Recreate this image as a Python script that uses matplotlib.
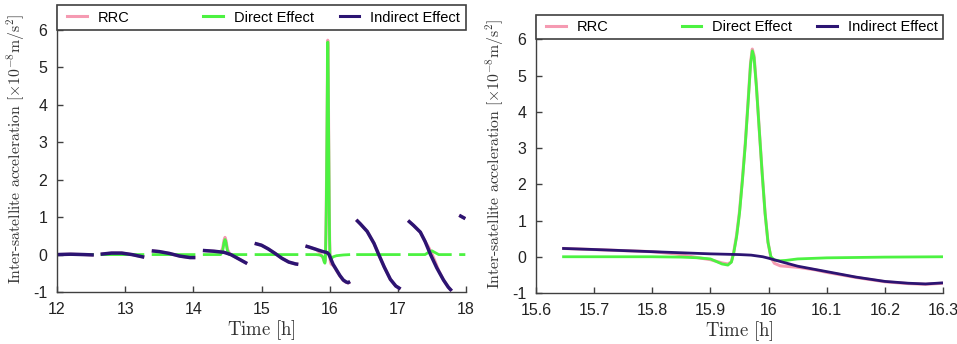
import numpy as np
import matplotlib.pyplot as plt
from matplotlib.patches import Rectangle
from matplotlib.legend import Legend

nan = np.nan

# single pass around 16 h (right panel, and the sixth arc of the left panel)
ind_t_pass = [15.645, 15.7, 15.75, 15.8, 15.85, 15.9, 15.95, 15.97, 15.99, 16.0,
              16.02, 16.05, 16.08, 16.1, 16.15, 16.2, 16.24, 16.27, 16.3]
ind_v_pass = [0.23, 0.20, 0.17, 0.14, 0.11, 0.08, 0.06, 0.045, 0.0, -0.04,
              -0.13, -0.26, -0.35, -0.41, -0.56, -0.68, -0.73, -0.75, -0.72]

dir_t_pass = [15.645, 15.8, 15.85, 15.88, 15.9, 15.91, 15.92, 15.93, 15.936, 15.94,
              15.945, 15.95, 15.955, 15.96, 15.965, 15.969, 15.972, 15.975, 15.979,
              15.984, 15.989, 15.994, 15.999, 16.004, 16.01, 16.02, 16.03, 16.05,
              16.1, 16.2, 16.3]
dir_v_pass = [0.0, 0.0, -0.01, -0.03, -0.06, -0.13, -0.2, -0.23, -0.15, 0.1,
              0.55, 1.2, 2.1, 3.1, 4.3, 5.3, 5.68, 5.5, 4.7,
              3.5, 2.3, 1.2, 0.4, 0.0, -0.09, -0.11, -0.1, -0.06,
              -0.03, -0.01, 0.0]

rrc_t_pass = [15.645, 15.8, 15.84, 15.88, 15.9, 15.92, 15.93, 15.936, 15.94, 15.945,
              15.95, 15.955, 15.96, 15.965, 15.969, 15.972, 15.975, 15.979, 15.984,
              15.989, 15.994, 15.999, 16.004, 16.01, 16.02, 16.05, 16.08, 16.1,
              16.15, 16.2, 16.24, 16.27, 16.3]
rrc_v_pass = [0.23, 0.14, 0.08, -0.03, -0.08, -0.17, -0.2, -0.14, 0.12, 0.6,
              1.25, 2.15, 3.15, 4.35, 5.35, 5.73, 5.55, 4.75, 3.5,
              2.3, 1.2, 0.4, -0.02, -0.18, -0.25, -0.29, -0.36, -0.43,
              -0.57, -0.69, -0.74, -0.76, -0.73]

# remaining arcs of the 12-18 h span, gaps marked with nan
ind_t_arcs = [12.0, 12.2, 12.4, 12.54, nan,
              12.64, 12.8, 12.95, 13.1, 13.28, nan,
              13.39, 13.5, 13.65, 13.8, 13.95, 14.03, nan,
              14.14, 14.3, 14.45, 14.55, 14.65, 14.79, nan,
              14.9, 15.0, 15.1, 15.2, 15.3, 15.4, 15.5, 15.54, nan,
              16.39, 16.45, 16.55, 16.65, 16.72, 16.8, 16.89, 16.97, 17.04, nan,
              17.15, 17.23, 17.33, 17.4, 17.48, 17.57, 17.67, 17.74, 17.79, nan,
              17.9, 17.99]
ind_v_arcs = [0.0, 0.01, 0.0, -0.01, nan,
              0.01, 0.04, 0.04, 0.0, -0.07, nan,
              0.1, 0.08, 0.03, -0.04, -0.08, -0.08, nan,
              0.11, 0.09, 0.06, 0.0, -0.1, -0.24, nan,
              0.3, 0.25, 0.15, 0.03, -0.1, -0.2, -0.25, -0.26, nan,
              0.93, 0.82, 0.62, 0.3, 0.0, -0.33, -0.66, -0.84, -0.92, nan,
              0.91, 0.78, 0.6, 0.35, 0.0, -0.35, -0.68, -0.87, -0.97, nan,
              1.05, 0.96]

dir_t_arcs = [12.0, 12.54, nan, 12.64, 13.28, nan, 13.39, 14.03, nan,
              14.14, 14.4, 14.43, 14.45, 14.465, 14.48, 14.5, 14.53, 14.79, nan,
              14.9, 15.54, nan, 16.39, 17.04, nan,
              17.15, 17.4, 17.45, 17.5, 17.55, 17.6, 17.79, nan, 17.9, 17.99]
dir_v_arcs = [0.0, 0.0, nan, 0.0, 0.0, nan, 0.0, 0.0, nan,
              0.0, 0.0, 0.1, 0.32, 0.4, 0.32, 0.1, 0.0, 0.0, nan,
              0.0, 0.0, nan, 0.0, 0.0, nan,
              0.0, 0.0, 0.06, 0.1, 0.05, 0.0, 0.0, nan, 0.0, 0.0]

rrc_t_arcs = [12.0, 12.2, 12.4, 12.54, nan,
              12.64, 12.8, 12.95, 13.1, 13.28, nan,
              13.39, 13.5, 13.65, 13.8, 13.95, 14.03, nan,
              14.14, 14.3, 14.4, 14.43, 14.45, 14.465, 14.48, 14.5, 14.53, 14.55, 14.65, 14.79, nan,
              14.9, 15.0, 15.1, 15.2, 15.3, 15.4, 15.5, 15.54, nan,
              16.39, 16.45, 16.55, 16.65, 16.72, 16.8, 16.89, 16.97, 17.04, nan,
              17.15, 17.23, 17.33, 17.4, 17.45, 17.5, 17.55, 17.6, 17.67, 17.74, 17.79, nan,
              17.9, 17.99]
rrc_v_arcs = [0.0, 0.01, 0.0, -0.01, nan,
              0.01, 0.04, 0.04, 0.0, -0.07, nan,
              0.1, 0.08, 0.03, -0.04, -0.08, -0.08, nan,
              0.11, 0.09, 0.07, 0.16, 0.38, 0.46, 0.37, 0.14, 0.03, 0.0, -0.1, -0.24, nan,
              0.3, 0.25, 0.15, 0.03, -0.1, -0.2, -0.25, -0.26, nan,
              0.93, 0.82, 0.62, 0.3, 0.0, -0.33, -0.66, -0.84, -0.92, nan,
              0.91, 0.78, 0.6, 0.35, 0.2, 0.02, -0.2, -0.43, -0.68, -0.87, -0.97, nan,
              1.05, 0.96]

labels = ['RRC', 'Direct Effect', 'Indirect Effect']
colors = ['#f59ab2', '#4cf241', '#2c1472']
yticks = [-1, 0, 1, 2, 3, 4, 5, 6]
ytop = 6.67
dark = '#404040'

plt.rcParams['font.family'] = ['Liberation Sans', 'DejaVu Sans']
plt.rcParams['mathtext.fontset'] = 'cm'
plt.rcParams['axes.unicode_minus'] = False

fig = plt.figure(figsize=(9.57, 3.44), dpi=100)
ax1 = fig.add_axes([57 / 957, 52 / 344, 409 / 957, 287 / 344])
ax2 = fig.add_axes([536 / 957, 51 / 344, 407 / 957, 278 / 344])


def draw(ax, series, widths):
    for (t, v), c, lw in zip(series, colors, widths):
        ax.plot(t, v, color=c, lw=lw, solid_capstyle='butt')


draw(ax1, [(rrc_t_arcs, rrc_v_arcs), (dir_t_arcs, dir_v_arcs), (ind_t_arcs, ind_v_arcs)],
     [2.2, 2.0, 2.5])
draw(ax1, [(rrc_t_pass, rrc_v_pass), (dir_t_pass, dir_v_pass), (ind_t_pass, ind_v_pass)],
     [2.2, 2.0, 2.5])
draw(ax2, [(rrc_t_pass, rrc_v_pass), (dir_t_pass, dir_v_pass), (ind_t_pass, ind_v_pass)],
     [2.2, 2.0, 2.0])

ax1.set_xlim(12, 18)
ax1.set_xticks(range(12, 19))
ax2.set_xlim(15.6, 16.3)
ax2.set_xticks(np.arange(15.6, 16.31, 0.1))
ax2.set_xticklabels(['15.6', '15.7', '15.8', '15.9', '16', '16.1', '16.2', '16.3'])

for ax in (ax1, ax2):
    ax.set_ylim(-1, ytop)
    ax.set_yticks(yticks)
    ax.spines['top'].set_visible(False)
    ax.spines['right'].set_visible(False)
    for s in ('left', 'bottom'):
        ax.spines[s].set_color(dark)
        ax.spines[s].set_linewidth(1.0)
    ax.tick_params(direction='in', length=4, width=1.0, color=dark,
                   labelsize=11.5, labelcolor='#222222')
    ax.tick_params(axis='y', pad=7)
    ax.tick_params(axis='x', pad=7)
    ax.set_xlabel(r'$\mathrm{Time\ [h]}$', fontsize=13.5, color='#333333', labelpad=1)
    ax.set_ylabel(r'$\text{Inter-satellite acceleration }[\times 10^{-8}\mathrm{m/s^2}]$',
                  fontsize=11.3, color='#333333', labelpad=4)

    # legend strip across the top of the axes
    trans = ax.get_yaxis_transform()
    ax.add_patch(Rectangle((0, 6), 1, ytop - 6, transform=trans, facecolor='white',
                           edgecolor=dark, lw=1.2, zorder=5, clip_on=False))
    for i, (lab, c) in enumerate(zip(labels, colors)):
        h, = ax.plot([], [], color=c, lw=2.2)
        leg = Legend(ax, [h], [lab], loc='center left',
                     bbox_to_anchor=(0.0245 + i / 3, (6 + ytop) / 2),
                     bbox_transform=trans, frameon=False, fontsize=10.5,
                     borderpad=0, borderaxespad=0, handlelength=1.35,
                     handletextpad=0.75)
        leg.set_zorder(6)
        ax.add_artist(leg)

fig.savefig('out.png', dpi=100)
